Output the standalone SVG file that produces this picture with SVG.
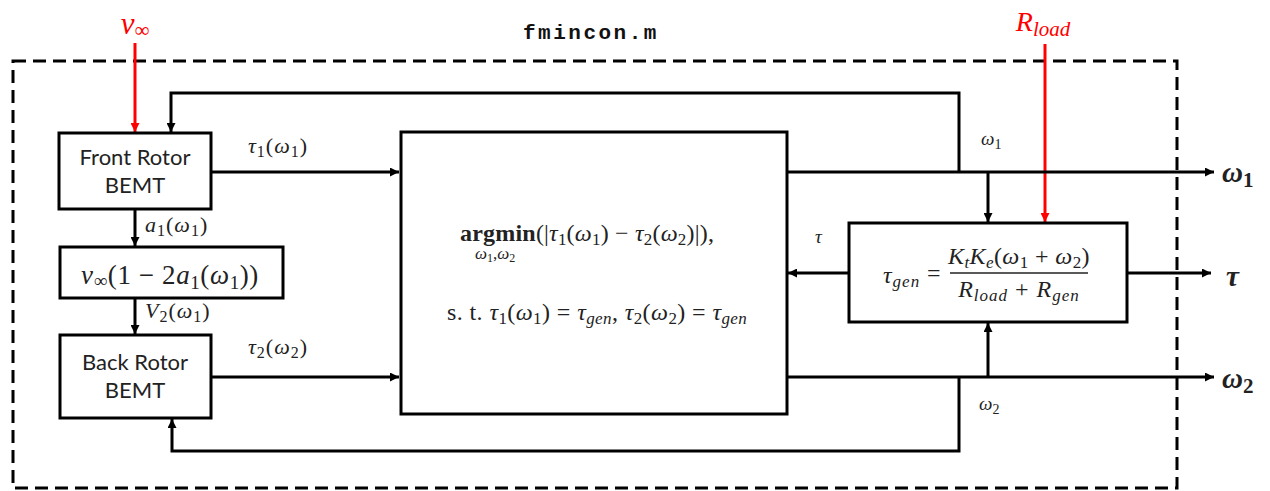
<svg xmlns="http://www.w3.org/2000/svg" width="1270" height="491" viewBox="0 0 1270 491">
  <defs>
    <marker id="ah" viewBox="0 0 10 10" refX="10" refY="5" markerWidth="10" markerHeight="9" markerUnits="userSpaceOnUse" orient="auto">
      <path d="M0,0 L10,5 L0,10 Z" fill="#000"/>
    </marker>
    <marker id="ahr" viewBox="0 0 10 10" refX="10" refY="5" markerWidth="10" markerHeight="9" markerUnits="userSpaceOnUse" orient="auto">
      <path d="M0,0 L10,5 L0,10 Z" fill="#ff0000"/>
    </marker>
  </defs>
  <style>
    .box { fill: #fff; stroke: #000; stroke-width: 3; }
    .frame { fill: none; stroke: #000; stroke-width: 3; stroke-dasharray: 13 7; }
    .arrow { fill: none; stroke: #000; stroke-width: 3; marker-end: url(#ah); }
    .red { fill: none; stroke: #ff0000; stroke-width: 3; marker-end: url(#ahr); }
    .lbl { font-family: "Lato", "Liberation Sans", sans-serif; font-size: 22px; fill: #222; text-anchor: middle; }
    .m { font-family: "Liberation Serif", "DejaVu Serif", serif; fill: #222; }
    .i { font-style: italic; }
    .b { font-weight: bold; }
    .sp { letter-spacing: 1px; }
    .title { font-family: "Liberation Mono", "DejaVu Sans Mono", monospace; font-weight: bold; font-size: 21px; letter-spacing: 2.5px; fill: #111; }
  </style>

  <rect width="1270" height="491" fill="#fff"/>

  <!-- optimisation boundary -->
  <rect class="frame" x="13" y="61" width="1164" height="427"/>
  <text class="title" x="523" y="39">fmincon.m</text>

  <!-- external inputs -->
  <text class="m i" x="135" y="34" font-size="31" style="fill:#ff0000" text-anchor="middle">v<tspan font-style="normal" font-size="21" dy="3">∞</tspan></text>
  <text class="m i" x="1043" y="31" font-size="28" style="fill:#ff0000" text-anchor="middle">R<tspan font-size="21" dy="5">load</tspan></text>

  <g id="connectors">
    <!-- inputs -->
    <line class="red" x1="135" y1="43" x2="135" y2="132"/>
    <line class="red" x1="1045" y1="44" x2="1045" y2="222"/>
    <!-- rotor chain -->
    <line class="arrow" x1="135" y1="209" x2="135" y2="246"/>
    <line class="arrow" x1="135" y1="298" x2="135" y2="334"/>
    <!-- torques into optimiser -->
    <line class="arrow" x1="211" y1="172" x2="399" y2="172"/>
    <line class="arrow" x1="211" y1="377" x2="399" y2="377"/>
    <!-- omega outputs -->
    <line class="arrow" x1="787" y1="172" x2="1214" y2="172"/>
    <line class="arrow" x1="787" y1="377" x2="1214" y2="377"/>
    <!-- feedback to rotors -->
    <polyline class="arrow" points="959,172 959,93 171,93 171,132"/>
    <polyline class="arrow" points="959,377 959,451 172,451 172,419"/>
    <!-- generator connections -->
    <line class="arrow" x1="988" y1="172" x2="988" y2="222"/>
    <line class="arrow" x1="988" y1="377" x2="988" y2="323"/>
    <line class="arrow" x1="849" y1="273" x2="788" y2="273"/>
    <line class="arrow" x1="1127" y1="273" x2="1211" y2="273"/>
  </g>

  <!-- connector labels -->
  <text class="m i sp" x="278" y="153" font-size="22" text-anchor="middle">τ<tspan font-style="normal" font-size="16" dy="4">1</tspan><tspan font-style="normal" dy="-4">(</tspan>ω<tspan font-style="normal" font-size="16" dy="4">1</tspan><tspan font-style="normal" dy="-4">)</tspan></text>
  <text class="m i sp" x="278" y="354" font-size="22" text-anchor="middle">τ<tspan font-style="normal" font-size="16" dy="4">2</tspan><tspan font-style="normal" dy="-4">(</tspan>ω<tspan font-style="normal" font-size="16" dy="4">2</tspan><tspan font-style="normal" dy="-4">)</tspan></text>
  <text class="m i sp" x="145" y="232" font-size="22">a<tspan font-style="normal" font-size="16" dy="4">1</tspan><tspan font-style="normal" dy="-4">(</tspan>ω<tspan font-style="normal" font-size="16" dy="4">1</tspan><tspan font-style="normal" dy="-4">)</tspan></text>
  <text class="m i sp" x="145" y="318" font-size="22">V<tspan font-style="normal" font-size="16" dy="4">2</tspan><tspan font-style="normal" dy="-4">(</tspan>ω<tspan font-style="normal" font-size="16" dy="4">1</tspan><tspan font-style="normal" dy="-4">)</tspan></text>
  <text class="m i" x="981" y="145" font-size="19">ω<tspan font-style="normal" font-size="14" dy="4">1</tspan></text>
  <text class="m i" x="979" y="410" font-size="19">ω<tspan font-style="normal" font-size="14" dy="4">2</tspan></text>
  <text class="m i" x="815" y="243" font-size="19">τ</text>
  <text class="m i b" x="1222" y="182" font-size="29">ω<tspan font-style="normal" font-size="21" dy="5">1</tspan></text>
  <text class="m i b" x="1226" y="286" font-size="29">τ</text>
  <text class="m i b" x="1222" y="388" font-size="29">ω<tspan font-style="normal" font-size="21" dy="5">2</tspan></text>

  <g id="front-rotor">
    <rect class="box" x="59" y="133" width="152" height="76"/>
    <text class="lbl" x="135" y="165">Front Rotor</text>
    <text class="lbl" x="135" y="193">BEMT</text>
  </g>

  <g id="inflow">
    <rect class="box" x="60" y="247" width="223" height="51"/>
    <text class="m i" x="170" y="284" font-size="27" letter-spacing="0.6" text-anchor="middle">v<tspan font-style="normal" font-size="19" dy="3">∞</tspan><tspan font-style="normal" dy="-3">(1 − 2</tspan>a<tspan font-style="normal" font-size="19" dy="5">1</tspan><tspan font-style="normal" dy="-5">(</tspan>ω<tspan font-style="normal" font-size="19" dy="5">1</tspan><tspan font-style="normal" dy="-5">))</tspan></text>
  </g>

  <g id="back-rotor">
    <rect class="box" x="60" y="335" width="151" height="83"/>
    <text class="lbl" x="135" y="370">Back Rotor</text>
    <text class="lbl" x="135" y="398">BEMT</text>
  </g>

  <g id="optimiser">
    <rect class="box" x="401" y="132" width="386" height="282"/>
    <text class="m i" x="460" y="241" font-size="24" letter-spacing="0.2"><tspan class="b" font-style="normal">argmin</tspan><tspan font-style="normal">(|</tspan>τ<tspan font-style="normal" font-size="17" dy="4">1</tspan><tspan font-style="normal" dy="-4">(</tspan>ω<tspan font-style="normal" font-size="17" dy="4">1</tspan><tspan font-style="normal" dy="-4">) − </tspan>τ<tspan font-style="normal" font-size="17" dy="4">2</tspan><tspan font-style="normal" dy="-4">(</tspan>ω<tspan font-style="normal" font-size="17" dy="4">2</tspan><tspan font-style="normal" dy="-4">)|),</tspan></text>
    <text class="m i" x="475" y="259" font-size="17">ω<tspan font-style="normal" font-size="12" dy="3">1</tspan><tspan font-style="normal" dy="-3">,</tspan>ω<tspan font-style="normal" font-size="12" dy="3">2</tspan></text>
    <text class="m i" x="447" y="320" font-size="24" letter-spacing="0.4"><tspan font-style="normal">s. t. </tspan>τ<tspan font-style="normal" font-size="17" dy="4">1</tspan><tspan font-style="normal" dy="-4">(</tspan>ω<tspan font-style="normal" font-size="17" dy="4">1</tspan><tspan font-style="normal" dy="-4">) = </tspan>τ<tspan font-size="17" dy="4">gen</tspan><tspan font-style="normal" dy="-4">, </tspan>τ<tspan font-style="normal" font-size="17" dy="4">2</tspan><tspan font-style="normal" dy="-4">(</tspan>ω<tspan font-style="normal" font-size="17" dy="4">2</tspan><tspan font-style="normal" dy="-4">) = </tspan>τ<tspan font-size="17" dy="4">gen</tspan></text>
  </g>

  <g id="generator">
    <rect class="box" x="849" y="223" width="278" height="99"/>
    <text class="m i sp" x="883" y="283" font-size="24">τ<tspan font-size="17" dy="4">gen</tspan></text>
    <text class="m" x="927" y="281" font-size="24">=</text>
    <line x1="950" y1="273" x2="1088" y2="273" stroke="#222" stroke-width="1.5"/>
    <text class="m i" x="1019" y="264" font-size="24" letter-spacing="0.4" text-anchor="middle">K<tspan font-size="17" dy="4">t</tspan><tspan dy="-4">K</tspan><tspan font-size="17" dy="4">e</tspan><tspan font-style="normal" dy="-4">(</tspan>ω<tspan font-style="normal" font-size="17" dy="4">1</tspan><tspan font-style="normal" dy="-4"> + </tspan>ω<tspan font-style="normal" font-size="17" dy="4">2</tspan><tspan font-style="normal" dy="-4">)</tspan></text>
    <text class="m i sp" x="1019" y="297" font-size="24" text-anchor="middle">R<tspan font-size="17" dy="4">load</tspan><tspan font-style="normal" dy="-4"> + </tspan>R<tspan font-size="17" dy="4">gen</tspan></text>
  </g>
</svg>
